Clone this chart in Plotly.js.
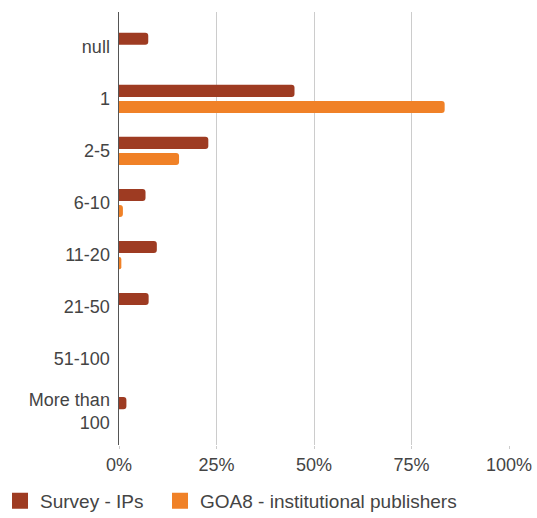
<!DOCTYPE html>
<html>
<head>
<meta charset="utf-8">
<script src="https://cdn.plot.ly/plotly-3.0.1.min.js"></script>
<style>html,body{margin:0;padding:0;background:#fff;}#chart{width:537px;height:518px;}</style>
</head>
<body>
<div id="chart"></div>
<script>
var categories = ["null", "1", "2-5", "6-10", "11-20", "21-50", "51-100", "More than<br>100"];
var surveyIPs = [0.075, 0.45, 0.229, 0.068, 0.097, 0.076, 0, 0.019];
var goa8 = [0, 0.835, 0.154, 0.010, 0.006, 0, 0, 0];
var seriesNames = ["Survey - IPs", "GOA8 - institutional publishers"];
var seriesColors = ["#9e3b22", "#f08127"];
var xTickVals = [0, 0.25, 0.5, 0.75, 1];
var xTickText = ["0%", "25%", "50%", "75%", "100%"];

var font = {family: "'Liberation Sans', Arial, sans-serif", size: 18, color: "#444"};
var legendFont = {family: "'Liberation Sans', Arial, sans-serif", size: 19, color: "#444"};

var traces = [
  {type: "bar", orientation: "h", name: seriesNames[0], y: categories, x: surveyIPs,
   marker: {color: seriesColors[0], cornerradius: 3}, showlegend: false, hoverinfo: "x+y"},
  {type: "bar", orientation: "h", name: seriesNames[1], y: categories, x: goa8,
   marker: {color: seriesColors[1], cornerradius: 3}, showlegend: false, hoverinfo: "x+y"},
  {type: "scatter", mode: "markers", name: seriesNames[0], x: [null], y: [null],
   marker: {symbol: "square", size: 16, color: seriesColors[0]}, showlegend: true, legendwidth: 115},
  {type: "scatter", mode: "markers", name: seriesNames[1], x: [null], y: [null],
   marker: {symbol: "square", size: 16, color: seriesColors[1]}, showlegend: true}
];

var layout = {
  width: 537, height: 518,
  margin: {l: 119, r: 28, t: 12, b: 73, autoexpand: false},
  paper_bgcolor: "#fff", plot_bgcolor: "#fff",
  font: font,
  barmode: "group",
  bargap: 0.38,
  bargroupgap: 0.25,
  showlegend: true,
  legend: {orientation: "h", xref: "paper", yref: "paper",
           x: -0.3051, xanchor: "left", y: -0.129, yanchor: "middle",
           font: legendFont, traceorder: "normal"},
  xaxis: {range: [0, 1], tickvals: xTickVals, ticktext: xTickText,
          showgrid: true, gridcolor: "#cccccc", gridwidth: 1,
          zeroline: false, showline: false,
          ticks: "outside", ticklen: 3, tickcolor: "#cccccc", tickwidth: 1,
          tickfont: font, fixedrange: true, automargin: false},
  yaxis: {type: "category", categoryorder: "array", categoryarray: categories,
          range: [7.65, -0.67], autorange: false,
          showgrid: false, zeroline: false,
          showline: true, linecolor: "#555", linewidth: 1.5,
          ticks: "", ticklabelstandoff: 4, tickfont: font, fixedrange: true, automargin: false}
};

Plotly.newPlot("chart", traces, layout, {displayModeBar: false, staticPlot: true});
</script>
</body>
</html>
